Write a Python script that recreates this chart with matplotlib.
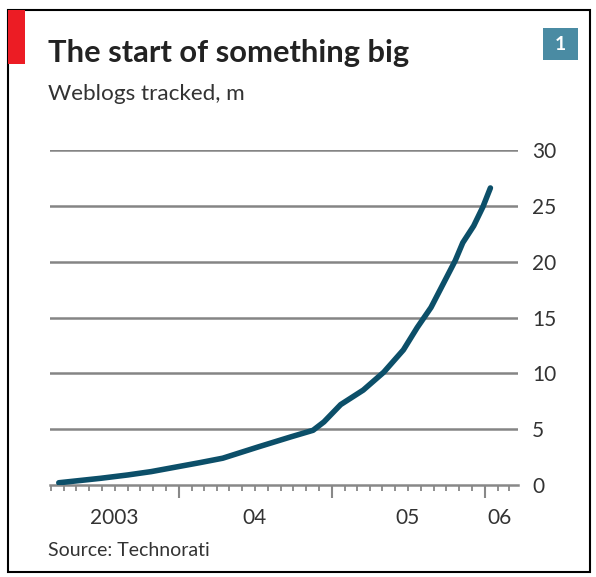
import matplotlib.pyplot as plt
import matplotlib.dates as mdates
from matplotlib.patches import Rectangle
import pandas as pd

# valores (millones de weblogs)
fechas = ["2003-03-20", "2003-06-28", "2003-09-01", "2003-10-27", "2004-02-20",
          "2004-04-15", "2004-07-08", "2004-09-24", "2004-11-17", "2004-12-13",
          "2005-01-22", "2005-03-17", "2005-05-05", "2005-06-21", "2005-07-24",
          "2005-08-26", "2005-09-24", "2005-10-23", "2005-11-10", "2005-12-06",
          "2005-12-28", "2006-01-15"]
weblogs = [0.2, 0.6, 0.9, 1.2, 2.0, 2.4, 3.4, 4.3, 4.9, 5.65,
           7.2, 8.5, 10.1, 12.1, 14.1, 15.9, 18.0, 20.1, 21.7, 23.2,
           24.9, 26.6]
y_ticks = [0, 5, 10, 15, 20, 25, 30]
year_labels = ["2003", "04", "05", "06"]
year_label_pos = ["2003-07-30", "2004-07-01", "2005-07-01", "2006-02-05"]

fechas = pd.to_datetime(fechas)
plt.rcParams['font.family'] = ['Lato', 'DejaVu Sans']

fig = plt.figure(figsize=(5.96, 5.77), dpi=100)
fig.patch.set_facecolor('white')

# marco y detalles de la cabecera
fig.patches.append(Rectangle((8/596, 1 - 572/577), 582/596, 562/577, transform=fig.transFigure,
                             fill=False, edgecolor='black', linewidth=1.5))
fig.patches.append(Rectangle((8/596, 1 - 64/577), 17/596, 54/577, transform=fig.transFigure,
                             facecolor='#ec1c24', edgecolor='none'))
fig.patches.append(Rectangle((543/596, 1 - 60/577), 35/596, 32/577, transform=fig.transFigure,
                             facecolor='#4a8ba3', edgecolor='none'))
fig.text(560.5/596, 1 - 44/577, '1', color='white', fontsize=14, fontweight='bold',
         ha='center', va='center')

fig.text(48/596, 1 - 53/577, 'The start of something big', fontsize=22.2, fontweight='bold',
         color='#222222', va='center')
fig.text(48/596, 1 - 94/577, 'Weblogs tracked, m', fontsize=16.2, color='#333333', va='center')
fig.text(48/596, 1 - 550/577, 'Source: Technorati', fontsize=14, color='#333333', va='center')

ax = fig.add_axes([50/596, (577 - 485)/577, 468/596, 335/577])
ax.plot(fechas, weblogs, color='#0c4f69', linewidth=4, solid_capstyle='round', zorder=3)

ax.set_ylim(0, 30)
ax.set_xlim(pd.Timestamp("2003-02-27"), pd.Timestamp("2006-03-22"))
ax.set_yticks(y_ticks)
ax.yaxis.tick_right()
ax.tick_params(axis='y', length=0, pad=10, labelsize=15, labelcolor='#333333')
for v in y_ticks[1:]:
    ax.axhline(v, color='#858585', linewidth=1.8, zorder=1)

for s in ['top', 'left', 'right']:
    ax.spines[s].set_visible(False)
ax.spines['bottom'].set_color('#888888')
ax.spines['bottom'].set_linewidth(1.8)

ax.xaxis.set_major_locator(mdates.YearLocator())
ax.xaxis.set_minor_locator(mdates.MonthLocator())
ax.xaxis.set_major_formatter(plt.NullFormatter())
ax.tick_params(axis='x', which='major', length=9, width=1.5, color='#888888', direction='out')
ax.tick_params(axis='x', which='minor', length=4.5, width=1.3, color='#888888', direction='out')

for lab, pos in zip(year_labels, year_label_pos):
    ax.text(pd.Timestamp(pos), -2.95, lab, ha='center', va='center', fontsize=15,
            color='#333333')

fig.savefig('out.png', dpi=100)
